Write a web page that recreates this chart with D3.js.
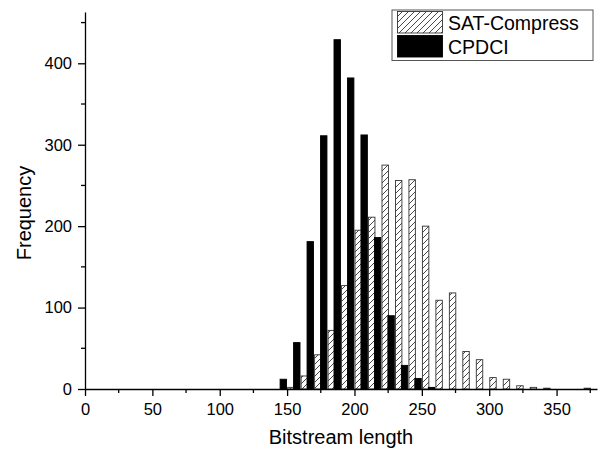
<!DOCTYPE html>
<html>
<head>
<meta charset="utf-8">
<script src="https://cdn.jsdelivr.net/npm/d3@7"></script>
<style>
  body { margin: 0; background: #fff; }
  text { font-family: "Liberation Sans", Arial, sans-serif; fill: #000; }
  .axis path, .axis line { stroke: #000; stroke-width: 1.3; }
</style>
</head>
<body>
<div id="chart"></div>
<script>
// bin centres of the histogram (bitstream length)
var bins = [150, 160, 170, 180, 190, 200, 210, 220, 230, 240, 250, 260,
  270, 280, 290, 300, 310, 320, 330, 340, 350, 360, 370];

// frequency per bin
var cpdci = [12, 57, 181, 311, 429, 382, 312, 186, 90, 29, 13, 2,
  0, 0, 0, 0, 0, 0, 0, 0, 0, 0, 0];
var satCompress = [2, 16, 42, 72, 127, 195, 211, 275, 256, 257, 200, 109,
  118, 46, 36, 14, 12, 4, 2, 1, 0, 0, 1];

var seriesNames = ["CPDCI", "SAT-Compress"];
var xTicks = [0, 50, 100, 150, 200, 250, 300, 350];
var xMinor = [25, 75, 125, 175, 225, 275, 325, 375];
var yTicks = [0, 100, 200, 300, 400];
var yMinor = [50, 150, 250, 350, 450];

var svgWidth = 603;
var svgHeight = 451;
var margin = { top: 12, right: 6, bottom: 62, left: 85 };
var width = svgWidth - margin.left - margin.right;
var height = svgHeight - margin.top - margin.bottom;

var svg = d3.select("#chart")
  .append("svg")
  .attr("width", svgWidth)
  .attr("height", svgHeight);

// hatch fill for SAT-Compress
var defs = svg.append("defs");
var hatch = defs.append("pattern")
  .attr("id", "hatch")
  .attr("patternUnits", "userSpaceOnUse")
  .attr("width", 6)
  .attr("height", 6);
hatch.append("rect").attr("width", 6).attr("height", 6).attr("fill", "#fff");
hatch.append("path")
  .attr("d", "M0,6 L6,0 M-1,1 L1,-1 M5,7 L7,5")
  .attr("stroke", "#333")
  .attr("stroke-width", 0.9);

var chartGroup = svg.append("g")
  .attr("transform", `translate(${margin.left}, ${margin.top})`);

// scales
var xScale = d3.scaleLinear().domain([0, 380]).range([0, width]);
var yScale = d3.scaleLinear().domain([0, 463]).range([height, 0]);

// offset of each series inside a bin, in data units
var subScale = d3.scaleBand()
  .domain(seriesNames)
  .range([-5.2, 5.2])
  .paddingInner(0.15);

var rows = [];
bins.forEach(function(b, i) {
  rows.push({ bin: b, key: "CPDCI", value: cpdci[i] });
  rows.push({ bin: b, key: "SAT-Compress", value: satCompress[i] });
});

chartGroup.selectAll(".bar")
  .data(rows.filter(d => d.value > 0))
  .enter()
  .append("rect")
  .attr("class", "bar")
  .attr("x", d => xScale(d.bin + subScale(d.key)))
  .attr("width", d => xScale(subScale.bandwidth()) - xScale(0))
  .attr("y", d => yScale(d.value))
  .attr("height", d => yScale(0) - yScale(d.value))
  .attr("fill", d => d.key == "CPDCI" ? "#000" : "url(#hatch)")
  .attr("stroke", d => d.key == "CPDCI" ? "#000" : "#333")
  .attr("stroke-width", 0.9);

// axes
var bottomAxis = d3.axisBottom(xScale)
  .tickValues(xTicks)
  .tickSize(7)
  .tickSizeOuter(0)
  .tickPadding(7);
var leftAxis = d3.axisLeft(yScale)
  .tickValues(yTicks)
  .tickSize(7)
  .tickSizeOuter(0)
  .tickPadding(6);

var xAxisG = chartGroup.append("g")
  .attr("class", "axis")
  .attr("transform", `translate(0, ${height})`)
  .call(bottomAxis);
xAxisG.selectAll("line.minor")
  .data(xMinor)
  .enter()
  .append("line")
  .attr("class", "minor")
  .attr("x1", d => xScale(d)).attr("x2", d => xScale(d))
  .attr("y1", 0).attr("y2", 4);

var yAxisG = chartGroup.append("g")
  .attr("class", "axis")
  .call(leftAxis);
yAxisG.selectAll("line.minor")
  .data(yMinor)
  .enter()
  .append("line")
  .attr("class", "minor")
  .attr("y1", d => yScale(d)).attr("y2", d => yScale(d))
  .attr("x1", 0).attr("x2", -4);

chartGroup.selectAll(".axis text")
  .style("font-size", "16.5px")
  .style("font-family", "'Liberation Sans', Arial, sans-serif")
  .attr("fill", "#000");

// axis labels
svg.append("text")
  .attr("transform", "translate(31, 213) rotate(-90)")
  .attr("text-anchor", "middle")
  .style("font-size", "20px")
  .text("Frequency");

svg.append("text")
  .attr("x", margin.left + width / 2)
  .attr("y", 444)
  .attr("text-anchor", "middle")
  .style("font-size", "20px")
  .text("Bitstream length");

// legend
var legend = svg.append("g").attr("transform", "translate(392, 10)");
legend.append("rect")
  .attr("width", 201)
  .attr("height", 50.5)
  .attr("fill", "#fff")
  .attr("stroke", "#555")
  .attr("stroke-width", 1);

var legendItems = ["SAT-Compress", "CPDCI"];
legendItems.forEach(function(name, i) {
  legend.append("rect")
    .attr("x", 5.5)
    .attr("y", 1.5 + i * 24)
    .attr("width", 45)
    .attr("height", 21.5)
    .attr("fill", name == "CPDCI" ? "#000" : "url(#hatch)")
    .attr("stroke", name == "CPDCI" ? "#000" : "#333")
    .attr("stroke-width", 0.9);
  legend.append("text")
    .attr("x", 56)
    .attr("y", 20 + i * 24.3)
    .style("font-size", "19.5px")
    .text(name);
});
</script>
</body>
</html>
